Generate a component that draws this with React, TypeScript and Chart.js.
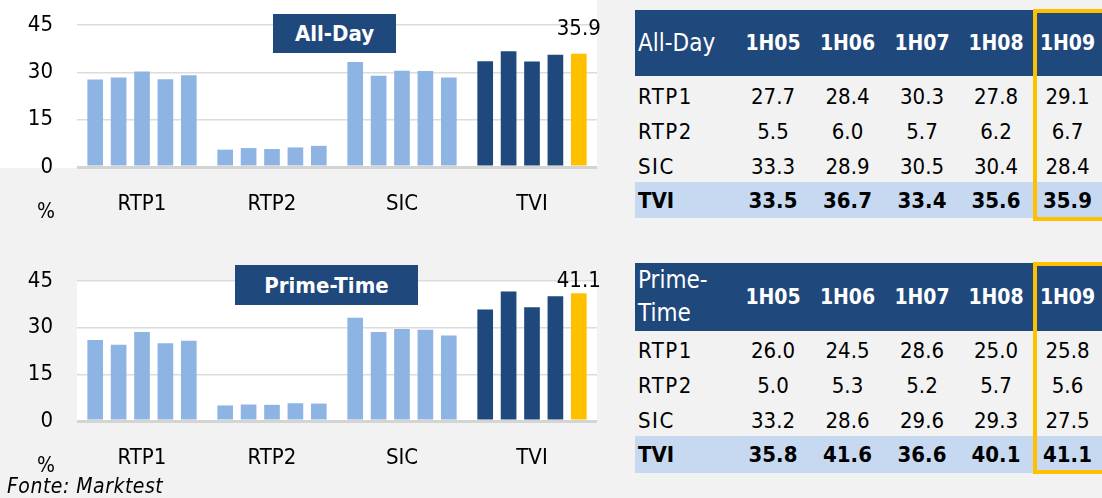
import React, { useEffect, useRef } from "react";
import { Chart, registerables } from "chart.js";

Chart.register(...registerables);

// ---------- data ----------
const channels = ["RTP1", "RTP2", "SIC", "TVI"];
const periods = ["1H05", "1H06", "1H07", "1H08", "1H09"];
const yTicks = [0, 15, 30, 45];

const allDayRTP1 = [27.7, 28.4, 30.3, 27.8, 29.1];
const allDayRTP2 = [5.5, 6.0, 5.7, 6.2, 6.7];
const allDaySIC = [33.3, 28.9, 30.5, 30.4, 28.4];
const allDayTVI = [33.5, 36.7, 33.4, 35.6, 35.9];

const primeRTP1 = [26.0, 24.5, 28.6, 25.0, 25.8];
const primeRTP2 = [5.0, 5.3, 5.2, 5.7, 5.6];
const primeSIC = [33.2, 28.6, 29.6, 29.3, 27.5];
const primeTVI = [35.8, 41.6, 36.6, 40.1, 41.1];

const allDayTitle = "All-Day";
const primeTitle = "Prime-Time";
const unitLabel = "%";
const sourceLabel = "Fonte: Marktest";

// ---------- styles ----------
const FONT = "'DejaVu Sans Condensed', 'Open Sans', sans-serif";
const LIGHT = "#8db4e3";
const NAVY = "#1f487c";
const YELLOW = "#ffc000";
const ROWBLUE = "#c6d9f0";
const PAGE = "#f2f2f2";

const whiteArea = {
  id: "whiteArea",
  beforeDraw(chart: any, _args: any, opts: any) {
    const { ctx, chartArea } = chart;
    ctx.save();
    ctx.fillStyle = "#ffffff";
    const left = opts && opts.full ? 0 : chartArea.left;
    const top = opts && opts.full ? 0 : chartArea.top;
    ctx.fillRect(left, top, chartArea.right - left, chartArea.bottom + 1 - top);
    ctx.restore();
  },
};

const lastLabel = {
  id: "lastLabel",
  afterDatasetsDraw(chart: any, _args: any, opts: any) {
    const { ctx, chartArea } = chart;
    const di = chart.data.datasets.length - 1;
    const ci = chart.data.labels.length - 1;
    const meta = chart.getDatasetMeta(di);
    const el = meta.data[ci];
    const v = chart.data.datasets[di].data[ci];
    ctx.save();
    ctx.font = `22px ${FONT}`;
    ctx.fillStyle = "#000";
    ctx.textAlign = "center";
    ctx.textBaseline = "middle";
    ctx.fillText(v.toFixed(1), el.x, chartArea.top + (opts.offset || 0));
    ctx.restore();
  },
};

function BarChart(props: {
  series: number[][];
  top: number;
  height: number;
  padTop: number;
  axisHeight: number;
  labelOffset: number;
  full: boolean;
}) {
  const ref = useRef<HTMLCanvasElement>(null);
  useEffect(() => {
    const { series } = props;
    const datasets = periods.map((p, i) => ({
      label: p,
      data: channels.map((_c, j) => series[j][i]),
      backgroundColor: channels.map((_c, j) =>
        j === channels.length - 1 ? (i === periods.length - 1 ? YELLOW : NAVY) : LIGHT
      ),
      categoryPercentage: 0.9,
      barPercentage: 0.67,
    }));
    const chart = new Chart(ref.current as HTMLCanvasElement, {
      type: "bar",
      data: { labels: channels, datasets },
      options: {
        animation: false,
        responsive: false,
        maintainAspectRatio: false,
        layout: { padding: { top: props.padTop, right: 23, left: 0, bottom: 0 } },
        plugins: {
          legend: { display: false },
          tooltip: { enabled: false },
          whiteArea: { full: props.full },
          lastLabel: { offset: props.labelOffset },
        } as any,
        scales: {
          x: {
            grid: { display: false, drawTicks: false },
            border: { display: false },
            ticks: { font: { family: FONT, size: 22 }, color: "#000", padding: 24 },
            afterFit: (s: any) => {
              s.height = props.axisHeight;
            },
          },
          y: {
            min: 0,
            max: 45,
            afterBuildTicks: (s: any) => {
              s.ticks = yTicks.map((v) => ({ value: v }));
            },
            ticks: { font: { family: FONT, size: 22 }, color: "#000", padding: 24 },
            grid: {
              drawTicks: false,
              color: (c: any) => (c.tick && c.tick.value === 0 ? "#d4d4d4" : "#dcdcdc"),
              lineWidth: (c: any) => (c.tick && c.tick.value === 0 ? 3 : 1.5),
            },
            border: { display: false },
            afterFit: (s: any) => {
              s.width = 77;
              s.paddingTop = 0;
              s.paddingBottom = 0;
            },
          },
        },
      } as any,
      plugins: [whiteArea, lastLabel],
    });
    return () => chart.destroy();
  }, []);
  return (
    <canvas
      ref={ref}
      width={620}
      height={props.height}
      style={{ position: "absolute", left: 0, top: props.top, width: 620, height: props.height }}
    />
  );
}

function TitleBox(props: { text: string; left: number; top: number; width: number; height: number }) {
  return (
    <div
      style={{
        position: "absolute",
        left: props.left,
        top: props.top,
        width: props.width,
        height: props.height,
        background: NAVY,
        color: "#fff",
        fontWeight: "bold",
        fontSize: 22,
        display: "flex",
        alignItems: "center",
        justifyContent: "center",
        whiteSpace: "nowrap",
      }}
    >
      {props.text}
    </div>
  );
}

const colX = [635, 736, 810, 885, 959, 1033];
const colW = [101, 74, 75, 74, 74, 69];

function DataTable(props: {
  title: string;
  rows: number[][];
  top: number;
  headerH: number;
  rowTop: number;
  rowH: number;
  tviTop: number;
  tviH: number;
  boxTop: number;
  boxBottom: number;
}) {
  const cells: any[] = [];
  cells.push(
    <div
      key="hbg"
      style={{ position: "absolute", left: 635, top: props.top, width: 1102 - 635, height: props.headerH, background: NAVY }}
    />
  );
  cells.push(
    <div
      key="htitle"
      style={{
        position: "absolute",
        left: colX[0] + 3,
        top: props.top,
        width: colW[0] - 3,
        height: props.headerH,
        display: "flex",
        alignItems: "center",
        color: "#fff",
        fontSize: 24,
        lineHeight: "33px",
      }}
    >
      <span>{props.title}</span>
    </div>
  );
  periods.forEach((p, i) => {
    cells.push(
      <div
        key={"h" + p}
        style={{
          position: "absolute",
          left: colX[i + 1],
          top: props.top,
          width: colW[i + 1],
          height: props.headerH,
          display: "flex",
          alignItems: "center",
          justifyContent: "center",
          color: "#fff",
          fontWeight: "bold",
          fontSize: 21,
        }}
      >
        {p}
      </div>
    );
  });
  channels.forEach((c, r) => {
    const isTVI = r === channels.length - 1;
    const top = isTVI ? props.tviTop : props.rowTop + r * props.rowH;
    const h = isTVI ? props.tviH : props.rowH;
    if (isTVI) {
      cells.push(
        <div
          key="tvibg"
          style={{ position: "absolute", left: 635, top, width: 1102 - 635, height: h, background: ROWBLUE }}
        />
      );
    }
    const rowStyle = {
      position: "absolute" as const,
      top,
      height: h,
      display: "flex",
      alignItems: "center",
      color: "#000",
      fontSize: 22,
      fontWeight: isTVI ? ("bold" as const) : ("normal" as const),
    };
    cells.push(
      <div
        key={"l" + c}
        style={{ ...rowStyle, left: colX[0] + 3, width: colW[0], letterSpacing: isTVI ? 0 : 1.5 }}
      >
        {c}
      </div>
    );
    props.rows[r].forEach((v, i) => {
      cells.push(
        <div
          key={c + i}
          style={{ ...rowStyle, left: colX[i + 1], width: colW[i + 1], justifyContent: "center" }}
        >
          {v.toFixed(1)}
        </div>
      );
    });
  });
  cells.push(
    <div
      key="box"
      style={{
        position: "absolute",
        left: 1033,
        top: props.boxTop,
        width: 80,
        height: props.boxBottom - props.boxTop,
        border: `4px solid ${YELLOW}`,
        boxSizing: "border-box",
      }}
    />
  );
  return <>{cells}</>;
}

export default function App() {
  const allDay = [allDayRTP1, allDayRTP2, allDaySIC, allDayTVI];
  const prime = [primeRTP1, primeRTP2, primeSIC, primeTVI];
  return (
    <div
      style={{
        position: "absolute",
        left: 0,
        top: 0,
        width: 1102,
        height: 498,
        overflow: "hidden",
        background: PAGE,
        fontFamily: FONT,
      }}
    >
      <BarChart series={allDay} top={0} height={240} padTop={25} axisHeight={73} labelOffset={4} full={true} />
      <BarChart series={prime} top={256} height={242} padTop={25} axisHeight={77} labelOffset={0} full={false} />
      <TitleBox text={allDayTitle} left={273} top={14} width={123} height={39} />
      <TitleBox text={primeTitle} left={235} top={265} width={183} height={40} />
      <div style={{ position: "absolute", left: 37, top: 199, fontSize: 21, color: "#000" }}>{unitLabel}</div>
      <div style={{ position: "absolute", left: 37, top: 453, fontSize: 21, color: "#000" }}>{unitLabel}</div>
      <div
        style={{ position: "absolute", left: 7, top: 474, fontSize: 21, fontStyle: "italic", color: "#000", letterSpacing: 0.5 }}
      >
        {sourceLabel}
      </div>
      <DataTable
        title={allDayTitle}
        rows={allDay}
        top={10}
        headerH={66}
        rowTop={79}
        rowH={35}
        tviTop={182}
        tviH={36}
        boxTop={9}
        boxBottom={221}
      />
      <DataTable
        title={primeTitle}
        rows={prime}
        top={263}
        headerH={68}
        rowTop={333}
        rowH={35}
        tviTop={436}
        tviH={37}
        boxTop={262}
        boxBottom={474}
      />
    </div>
  );
}
